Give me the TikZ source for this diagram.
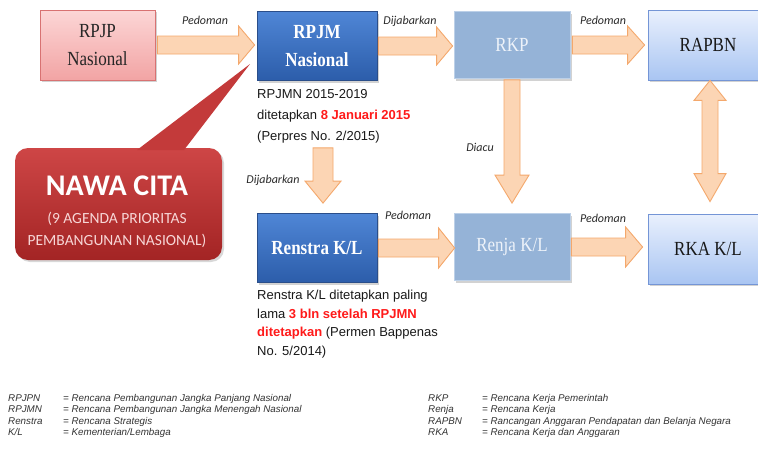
\documentclass[tikz,border=0pt]{standalone}
\usepackage{fontspec}
\setmainfont{Liberation Serif}
\newfontfamily\boxfont[FakeStretch=0.85]{Liberation Serif}
\newfontfamily\calfont{Carlito}
\newfontfamily\arialfont{Liberation Sans}
\usetikzlibrary{calc,shadows}
\definecolor{arrfill}{HTML}{FCD5B4}
\definecolor{arrdraw}{HTML}{F4A86C}
\definecolor{pinktop}{HTML}{FCD6D6}
\definecolor{pinkbot}{HTML}{F2A4A4}
\definecolor{pinkdraw}{HTML}{D87272}
\definecolor{bluetop}{HTML}{4F86D6}
\definecolor{bluebot}{HTML}{2C5DAA}
\definecolor{bluedraw}{HTML}{2A4E8A}
\definecolor{steel}{HTML}{95B3D7}
\definecolor{steeldraw}{HTML}{BCD0E8}
\definecolor{steeltxt}{HTML}{EEF3FA}
\definecolor{ltop}{HTML}{E9F0FD}
\definecolor{lbot}{HTML}{A9C5F2}
\definecolor{ldraw}{HTML}{7495D6}
\definecolor{redtop}{HTML}{CE4646}
\definecolor{redbot}{HTML}{A32424}
\definecolor{redmid}{HTML}{C33A3A}
\definecolor{pinktxt}{HTML}{F7D6D6}
\definecolor{notered}{HTML}{FF1A1A}
\definecolor{lbltxt}{HTML}{2A2A2A}
\definecolor{legtxt}{HTML}{333333}
\tikzset{
  basebox/.style={rectangle, align=center, font=\boxfont\fontsize{20}{28}\selectfont,
    line width=0.8pt, drop shadow={opacity=0.35, shadow xshift=2pt, shadow yshift=-2pt}},
  pinkbox/.style={basebox, draw=pinkdraw, top color=pinktop, bottom color=pinkbot,
    text=black!85, minimum width=115pt, minimum height=70pt},
  bluebox/.style={basebox, draw=bluedraw, top color=bluetop, bottom color=bluebot,
    text=white, font=\boxfont\bfseries\fontsize{20}{28}\selectfont, minimum width=120pt, minimum height=69pt},
  steelbox/.style={basebox, draw=steeldraw, fill=steel, text=steeltxt,
    minimum width=116pt, minimum height=67pt},
  lightbox/.style={basebox, draw=ldraw, top color=ltop, bottom color=lbot,
    text=black!90, minimum width=120pt, minimum height=70pt},
  barrow/.style={fill=arrfill, draw=arrdraw, line width=0.9pt, line join=miter},
  lbl/.style={font=\calfont\itshape\fontsize{12}{14}\selectfont, text=lbltxt, inner sep=0pt},
  notetxt/.style={font=\arialfont\fontsize{13}{21}\selectfont, align=left, inner sep=0pt, text=black!90},
  legend/.style={font=\arialfont\itshape\fontsize{9.8}{11.5}\selectfont, align=left, inner sep=0pt, text=legtxt},
  nawatitle/.style={font=\calfont\bfseries\fontsize{30}{32}\selectfont, text=white, inner sep=0pt},
  nawasub/.style={font=\calfont\fontsize{15.5}{17}\selectfont, text=pinktxt, inner sep=0pt},
}
% block arrow: #1 start, #2 tip, #3 shaft half width, #4 head half width, #5 head length
\newcommand\blockarr[5]{%
  \coordinate (bah) at ($(#2)!#5!(#1)$);
  \draw[barrow] ($(#1)!#3!90:(#2)$) -- ($(bah)!#3!90:(#2)$) -- ($(bah)!#4!90:(#2)$) -- (#2)
    -- ($(bah)!#4!-90:(#2)$) -- ($(bah)!#3!-90:(#2)$) -- ($(#1)!#3!-90:(#2)$) -- cycle;}
\newcommand\dblarr[6]{%
  \coordinate (dbh1) at ($(#1)!#5!(#2)$);
  \coordinate (dbh2) at ($(#2)!#6!(#1)$);
  \draw[barrow] (#1) -- ($(dbh1)!#4!90:(#2)$) -- ($(dbh1)!#3!90:(#2)$) -- ($(dbh2)!#3!90:(#2)$)
    -- ($(dbh2)!#4!90:(#2)$) -- (#2) -- ($(dbh2)!#4!-90:(#2)$) -- ($(dbh2)!#3!-90:(#2)$)
    -- ($(dbh1)!#3!-90:(#2)$) -- ($(dbh1)!#4!-90:(#2)$) -- cycle;}
\begin{document}
\begin{tikzpicture}[x=1pt,y=-1pt]
\useasboundingbox (0,0) rectangle (758,455);
\fill[white] (0,0) rectangle (758,455);
\clip (0,0) rectangle (758,455);

% NAWA CITA callout
\node[rectangle, rounded corners=13pt, top color=redtop, bottom color=redbot,
      minimum width=207pt, minimum height=112pt, inner sep=0pt,
      drop shadow={opacity=0.3, shadow xshift=2pt, shadow yshift=-2pt}] (nawa) at (118.5,204) {};
\fill[redmid] (137,150) -- (250,64) -- (184,150) -- cycle;
\node[nawatitle] (nawa-t) at (117,186) {NAWA CITA};
\node[nawasub] (nawa-s1) at (117,219) {(9 AGENDA PRIORITAS};
\node[nawasub] (nawa-s2) at (117,241) {PEMBANGUNAN NASIONAL)};

% boxes
\node[pinkbox] (rpjp) at (97.5,45) {RPJP\\Nasional};
\node[bluebox] (rpjm) at (317,46) {RPJM\\Nasional};
\node[steelbox] (rkp) at (512,45) {RKP};
\node[lightbox] (rapbn) at (708,45) {RAPBN};
\node[bluebox] (renstra) at (317,248) {Renstra K/L};
\node[steelbox] (renja) at (512,247) {Renja K/L};
\node[lightbox] (rka) at (708,249) {RKA K/L};

% notes
\node[notetxt, anchor=north west] (note1) at (257,89)
  {RPJMN 2015-2019\\ditetapkan \textcolor{notered}{\bfseries 8 Januari 2015}\\(Perpres No. 2/2015)};
\node[notetxt, font=\arialfont\fontsize{13}{18.5}\selectfont, anchor=north west] (note2) at (257,290)
  {Renstra K/L ditetapkan paling\\lama \textcolor{notered}{\bfseries 3 bln setelah RPJMN}\\
   \textcolor{notered}{\bfseries ditetapkan} (Permen Bappenas\\No. 5/2014)};

% arrows
\coordinate (a1s) at ([xshift=2pt]rpjp.east);
\coordinate (a1e) at ([xshift=-2pt]rpjp.east -| rpjm.west);
\blockarr{a1s}{a1e}{9pt}{19pt}{16pt}
\coordinate (a2s) at ([xshift=1pt]rpjm.east);
\coordinate (a2e) at ([xshift=-1pt]rpjm.east -| rkp.west);
\blockarr{a2s}{a2e}{9pt}{19pt}{16pt}
\coordinate (a3s) at ([xshift=2pt]rkp.east);
\coordinate (a3e) at ([xshift=-3pt]rkp.east -| rapbn.west);
\blockarr{a3s}{a3e}{9pt}{19pt}{17pt}
\coordinate (a4s) at ([xshift=1pt]renstra.east);
\coordinate (a4e) at ([xshift=1pt]renstra.east -| renja.west);
\blockarr{a4s}{a4e}{9pt}{20pt}{16pt}
\coordinate (a5s) at ([xshift=1pt]renja.east);
\coordinate (a5e) at ([xshift=-5pt]renja.east -| rka.west);
\blockarr{a5s}{a5e}{9pt}{20pt}{17pt}
\coordinate (a6s) at ([yshift=-1pt]rkp.south);
\coordinate (a6e) at ([yshift=10pt]renja.north);
\blockarr{a6s}{a6e}{8pt}{17pt}{28pt}
\coordinate (a7s) at ([xshift=6pt,yshift=-67pt]rpjm.south);
\coordinate (a7e) at ([xshift=6pt,yshift=10pt]renstra.north);
\blockarr{a7s}{a7e}{10pt}{18pt}{22pt}
\coordinate (a8s) at ([xshift=2pt]rapbn.south);
\coordinate (a8e) at ([xshift=2pt,yshift=12pt]rka.north);
\dblarr{a8s}{a8e}{8pt}{16pt}{20pt}{28pt}

% arrow labels
\node[lbl] (l1) at (205,20) {Pedoman};
\node[lbl] (l2) at (410,21) {Dijabarkan};
\node[lbl] (l3) at (603,20) {Pedoman};
\node[lbl] (l4) at (480,147) {Diacu};
\node[lbl] (l5) at (273,180) {Dijabarkan};
\node[lbl] (l6) at (408,215) {Pedoman};
\node[lbl] (l7) at (603,218) {Pedoman};

% legend
\node[legend, anchor=north west] (leg1) at (8,394)
  {\makebox[55pt][l]{RPJPN}= Rencana Pembangunan Jangka Panjang Nasional\\
   \makebox[55pt][l]{RPJMN}= Rencana Pembangunan Jangka Menengah Nasional\\
   \makebox[55pt][l]{Renstra}= Rencana Strategis\\
   \makebox[55pt][l]{K/L}= Kementerian/Lembaga};
\node[legend, anchor=north west] (leg2) at (428,394)
  {\makebox[54pt][l]{RKP}= Rencana Kerja Pemerintah\\
   \makebox[54pt][l]{Renja}= Rencana Kerja\\
   \makebox[54pt][l]{RAPBN}= Rancangan Anggaran Pendapatan dan Belanja Negara\\
   \makebox[54pt][l]{RKA}= Rencana Kerja dan Anggaran};
\end{tikzpicture}
\end{document}
